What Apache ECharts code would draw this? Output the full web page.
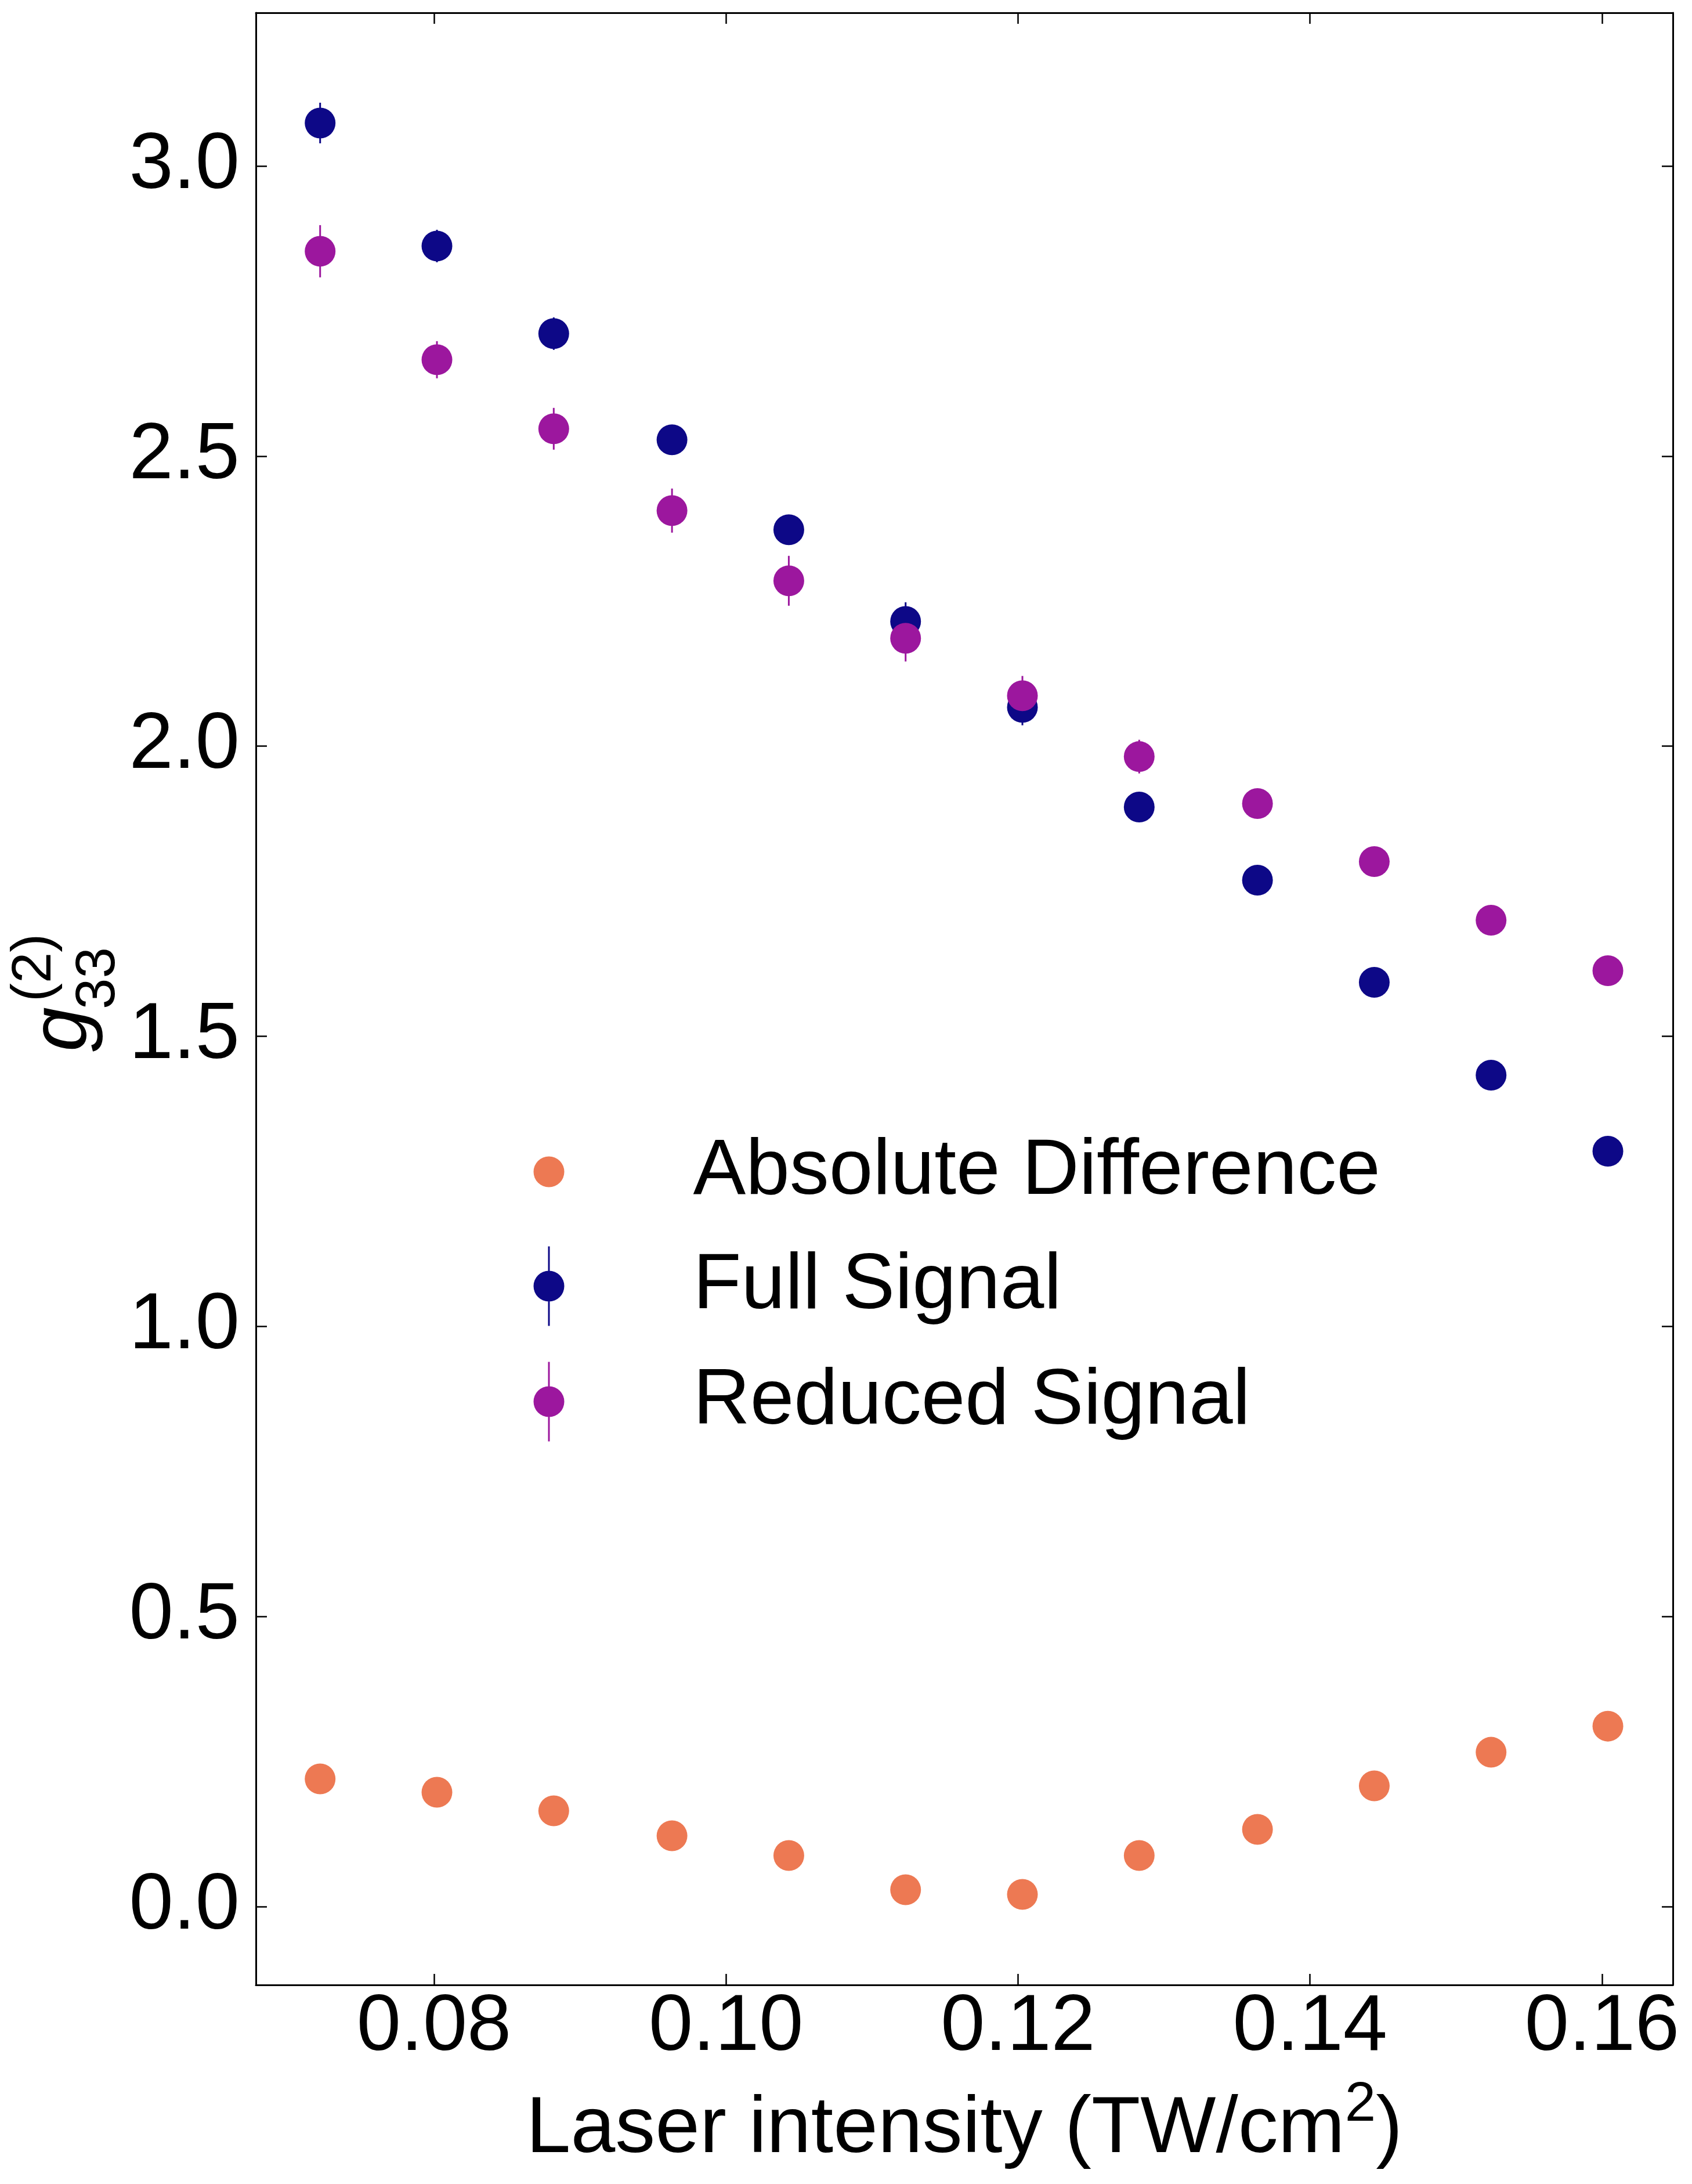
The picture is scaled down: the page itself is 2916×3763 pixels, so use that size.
<!DOCTYPE html>
<html>
<head>
<meta charset="utf-8">
<script src="https://cdn.jsdelivr.net/npm/echarts@6/dist/echarts.min.js"></script>
<style>
html,body{margin:0;padding:0;background:#fff;}
#chart{width:2916px;height:3763px;}
</style>
</head>
<body>
<div id="chart"></div>
<script>
// ---- data ----
const intensity = [0.0722, 0.0802, 0.0882, 0.0963, 0.1043, 0.1123, 0.1203, 0.1283, 0.1364, 0.1444, 0.1524, 0.1604];
const fullSignal = [3.074, 2.862, 2.711, 2.528, 2.373, 2.215, 2.067, 1.895, 1.769, 1.593, 1.433, 1.302];
const fullErr = [0.035, 0.028, 0.028, 0.020, 0.020, 0.033, 0.031, 0.020, 0.020, 0.020, 0.020, 0.020];
const reducedSignal = [2.853, 2.666, 2.547, 2.406, 2.285, 2.186, 2.087, 1.982, 1.901, 1.801, 1.700, 1.613];
const reducedErr = [0.045, 0.032, 0.036, 0.038, 0.043, 0.040, 0.034, 0.029, 0.020, 0.020, 0.020, 0.020];
const absDiff = [0.220, 0.197, 0.165, 0.122, 0.088, 0.029, 0.021, 0.088, 0.133, 0.208, 0.266, 0.311];
const xTicks = [0.08, 0.10, 0.12, 0.14, 0.16];
const yTicks = [0.0, 0.5, 1.0, 1.5, 2.0, 2.5, 3.0];
const seriesNames = ['Absolute Difference', 'Full Signal', 'Reduced Signal'];

const X_MIN = 0.0678, X_MAX = 0.16485;
const Y_MIN = -0.135, Y_MAX = 3.264;
const COL_ABS = '#ed7953', COL_FULL = '#0d0887', COL_RED = '#9c179e';
const FONT = 'Liberation Sans, Arial, Helvetica, sans-serif';
const MS = 53;

const pts = (ys) => intensity.map((x, i) => [x, ys[i]]);
const errs = (ys, es) => intensity.map((x, i) => [x, ys[i] - es[i], ys[i] + es[i]]);

function errRender(color) {
  return function (params, api) {
    const p1 = api.coord([api.value(0), api.value(1)]);
    const p2 = api.coord([api.value(0), api.value(2)]);
    return {type: 'line', shape: {x1: p1[0], y1: p1[1], x2: p2[0], y2: p2[1]},
            style: {stroke: color, lineWidth: 3}};
  };
}

const ERR_ICON = 'path://M25,0L28,0L28,137L25,137Z M0,68.5A26.5,26.5,0,1,1,53,68.5A26.5,26.5,0,1,1,0,68.5Z';

const axLine = {show: true, onZero: false, lineStyle: {color: '#000', width: 3}};
const tickStyle = {color: '#000', width: 2.5};

const chart = echarts.init(document.getElementById('chart'), null, {renderer: 'canvas'});
const legendText = {fontSize: 136, color: '#000', fontFamily: FONT, lineHeight: 140, padding: [0, 0, 0, 217]};

chart.setOption({
  animation: false,
  backgroundColor: '#fff',
  grid: {left: 441, top: 22, right: 33, bottom: 343, containLabel: false},
  xAxis: [
    {type: 'value', position: 'bottom', min: X_MIN, max: X_MAX,
     axisLine: axLine,
     axisTick: {show: true, inside: true, length: 19, lineStyle: tickStyle, customValues: xTicks},
     axisLabel: {show: true, customValues: xTicks, formatter: v => v.toFixed(2), fontSize: 137,
                 color: '#000', fontFamily: FONT, margin: 6},
     splitLine: {show: false},
     name: '{a|Laser intensity (TW/cm}{s|2}{a|)}',
     nameLocation: 'middle', nameGap: 160,
     nameTextStyle: {rich: {
       a: {fontSize: 138, color: '#000', fontFamily: FONT, lineHeight: 180},
       s: {fontSize: 96, color: '#000', fontFamily: FONT, lineHeight: 96, verticalAlign: 'top'}
     }}},
    {type: 'value', position: 'top', min: X_MIN, max: X_MAX,
     axisLine: axLine,
     axisTick: {show: true, inside: true, length: 19, lineStyle: tickStyle, customValues: xTicks},
     axisLabel: {show: false}, splitLine: {show: false}}
  ],
  yAxis: [
    {type: 'value', position: 'left', min: Y_MIN, max: Y_MAX,
     axisLine: axLine,
     axisTick: {show: true, inside: true, length: 19, lineStyle: tickStyle, customValues: yTicks},
     axisLabel: {show: true, customValues: yTicks, formatter: v => v.toFixed(1), fontSize: 137,
                 color: '#000', fontFamily: FONT, margin: 28},
     splitLine: {show: false}},
    {type: 'value', position: 'right', min: Y_MIN, max: Y_MAX,
     axisLine: axLine,
     axisTick: {show: true, inside: true, length: 19, lineStyle: tickStyle, customValues: yTicks},
     axisLabel: {show: false}, splitLine: {show: false}}
  ],
  legend: [
    {data: [seriesNames[0]], left: 919.5, top: 2019 - 70, padding: 0, selectedMode: false,
     itemWidth: MS, itemHeight: MS, icon: 'circle', textStyle: legendText},
    {data: [seriesNames[1]], left: 919.5, top: 2216 - 70, padding: 0, selectedMode: false,
     itemWidth: MS, itemHeight: 137, icon: ERR_ICON, textStyle: legendText},
    {data: [seriesNames[2]], left: 919.5, top: 2415 - 70, padding: 0, selectedMode: false,
     itemWidth: MS, itemHeight: 137, icon: ERR_ICON, textStyle: legendText}
  ],
  graphic: [
    {type: 'text', x: 110, y: 1812, rotation: Math.PI / 2,
     style: {text: 'g', fontSize: 138, fontStyle: 'italic', fontFamily: FONT, fill: '#000', align: 'left', verticalAlign: 'middle'}},
    {type: 'text', x: 171, y: 1739, rotation: Math.PI / 2,
     style: {text: '33', fontSize: 96, fontFamily: FONT, fill: '#000', align: 'left', verticalAlign: 'middle'}},
    {type: 'text', x: 61, y: 1726, rotation: Math.PI / 2,
     style: {text: '(2)', fontSize: 96, fontFamily: FONT, fill: '#000', align: 'left', verticalAlign: 'middle'}}
  ],
  series: [
    {name: seriesNames[0], type: 'scatter', data: pts(absDiff), symbol: 'circle', symbolSize: MS,
     itemStyle: {color: COL_ABS, opacity: 1}},
    {name: 'Full Signal err', type: 'custom', data: errs(fullSignal, fullErr), renderItem: errRender(COL_FULL),
     encode: {x: 0, y: [1, 2]}},
    {name: seriesNames[1], type: 'scatter', data: pts(fullSignal), symbol: 'circle', symbolSize: MS,
     itemStyle: {color: COL_FULL, opacity: 1}},
    {name: 'Reduced Signal err', type: 'custom', data: errs(reducedSignal, reducedErr), renderItem: errRender(COL_RED),
     encode: {x: 0, y: [1, 2]}},
    {name: seriesNames[2], type: 'scatter', data: pts(reducedSignal), symbol: 'circle', symbolSize: MS,
     itemStyle: {color: COL_RED, opacity: 1}}
  ]
});
</script>
</body>
</html>
